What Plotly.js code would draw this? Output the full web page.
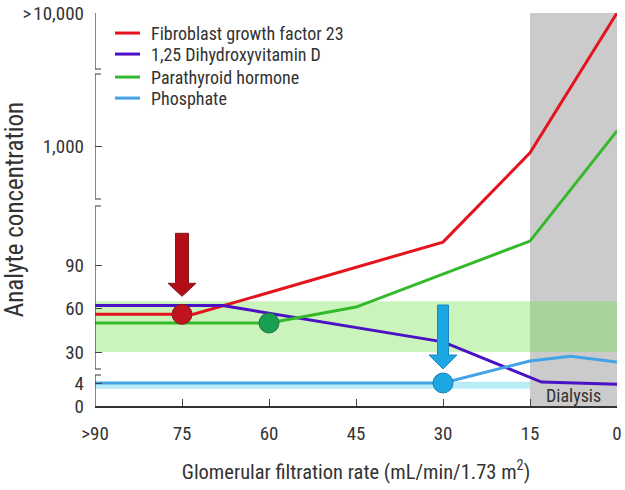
<!DOCTYPE html>
<html>
<head>
<meta charset="utf-8">
<script src="https://cdn.plot.ly/plotly-3.0.1.min.js"></script>
<style>html,body{margin:0;padding:0;background:#fff;}#chart{width:625px;height:490px;}</style>
</head>
<body>
<div id="chart"></div>
<script>
// ---- Data (GFR in mL/min/1.73 m², analyte concentration on a schematic broken scale) ----
const fgf23Gfr  = [90, 75, 73, 30, 15, 0];
const fgf23Conc = [56, 56, 56, 143, 870, 10000];

const vitdGfr  = [90, 68, 30, 13, 0];
const vitdConc = [62, 62, 37, 4.8, 3.8];

const pthGfr  = [90, 60, 45, 15, 0];
const pthConc = [50, 50, 61, 146, 1300];

const phosGfr  = [90, 30, 15, 8, 0];
const phosConc = [4, 4, 22.5, 26.5, 21.5];

// markers where each analyte starts to change
const fgf23Onset = {gfr: 75, conc: 56};
const pthOnset   = {gfr: 60, conc: 50};
const phosOnset  = {gfr: 30, conc: 4};

// normal-range bands and dialysis zone
const normalBand = [30, 65];
const phosBand   = [3, 5];
const dialysisGfr = [15, 0];

const seriesNames = ["Fibroblast growth factor 23", "1,25 Dihydroxyvitamin D", "Parathyroid hormone", "Phosphate"];

const xTickVals = [90, 75, 60, 45, 30, 15, 0];
const xTickText = ["&gt;90", "75", "60", "45", "30", "15", "0"];
const yTickConc = [0, 4, 30, 60, 90, 1000, 10000];
const yTickText = ["0", "4", "30", "60", "90", "1,000", "&gt;\u200A10,000"];

// ---- Schematic broken y scale: concentration -> axis position ----
const scaleConc = [0, 4, 30, 90, 1000, 10000];
const scalePos  = [0, 23, 54, 141, 260, 393];
function ypos(c) {
  for (let i = 0; i < scaleConc.length - 1; i++) {
    const a = scaleConc[i], b = scaleConc[i + 1];
    if (c <= b || i === scaleConc.length - 2) {
      let f;
      if (a >= 90) f = (Math.log10(c) - Math.log10(a)) / (Math.log10(b) - Math.log10(a));
      else f = (c - a) / (b - a);
      return scalePos[i] + f * (scalePos[i + 1] - scalePos[i]);
    }
  }
}
// axis breaks (positions on the schematic axis)
const breakPairs = [[31, 37], [200, 207], [332, 337]];
const axisTop = 393;

const FONT = "'Liberation Sans Narrow', 'Roboto Condensed', 'DejaVu Sans Condensed', 'Arial Narrow', Roboto, sans-serif";
const TXT = "#333333";
const seriesColors = ["#e3141e", "#4a12c4", "#35b92c", "#43a3e6"];

function line(name, gfr, conc, color) {
  return {type: "scatter", mode: "lines", name: name, x: gfr, y: conc.map(ypos), showlegend: false,
          line: {color: color, width: 3}, hoverinfo: "skip"};
}
function dot(p, fill, edge) {
  return {type: "scatter", mode: "markers", x: [p.gfr], y: [ypos(p.conc)], showlegend: false,
          cliponaxis: false, marker: {size: 20, color: fill, line: {color: edge, width: 1}}, hoverinfo: "skip"};
}

const traces = [
  line(seriesNames[0], fgf23Gfr, fgf23Conc, seriesColors[0]),
  line(seriesNames[1], vitdGfr, vitdConc, seriesColors[1]),
  line(seriesNames[2], pthGfr, pthConc, seriesColors[2]),
  line(seriesNames[3], phosGfr, phosConc, seriesColors[3]),
  dot(fgf23Onset, "#c0141f", "#8a1a22"),
  dot(pthOnset, "#18a052", "#1d7048"),
  dot(phosOnset, "#1aa7e2", "#1a7fb0")
];

// ---- Shapes ----
const shapes = [];
// dialysis zone
shapes.push({type: "rect", layer: "below", xref: "x", yref: "paper", x0: dialysisGfr[0], x1: dialysisGfr[1], y0: 0, y1: 1,
             fillcolor: "#cbcbcb", line: {width: 0}});
// normal range band (translucent, so it darkens over dialysis zone)
shapes.push({type: "rect", layer: "below", xref: "paper", yref: "y", x0: 0, x1: 1,
             y0: ypos(normalBand[0]), y1: ypos(normalBand[1]), fillcolor: "rgba(110,225,70,0.36)", line: {width: 0}});
// phosphate band
shapes.push({type: "rect", layer: "below", xref: "x", yref: "y", x0: 90, x1: dialysisGfr[0],
             y0: ypos(phosBand[0]), y1: ypos(phosBand[1]), fillcolor: "#b8edf6", line: {width: 0}});

// broken y-axis line
const segs = [[0, breakPairs[0][0]], [breakPairs[0][1], breakPairs[1][0]], [breakPairs[1][1], breakPairs[2][0]], [breakPairs[2][1], axisTop]];
segs.forEach(s => shapes.push({type: "line", xref: "x", yref: "y", xsizemode: "pixel", xanchor: 90, x0: 0, x1: 0,
                               y0: s[0], y1: s[1], line: {color: "#444", width: 1.3}}));
breakPairs.forEach(b => b.forEach(v => shapes.push({type: "line", xref: "x", yref: "y", xsizemode: "pixel", xanchor: 90,
                               x0: -7, x1: 6, y0: v, y1: v, line: {color: "#555", width: 1.2}})));

// down arrows above onset markers (pixel geometry relative to marker)
function arrowPath(tip, headH, headW, shaftW, top) {
  const hw = headW / 2, sw = shaftW / 2, hb = tip + headH;
  return `M 0 ${tip} L ${-hw} ${hb} L ${-sw} ${hb} L ${-sw} ${top} L ${sw} ${top} L ${sw} ${hb} L ${hw} ${hb} Z`;
}
shapes.push({type: "path", xref: "x", yref: "y", xsizemode: "pixel", ysizemode: "pixel",
             xanchor: fgf23Onset.gfr, yanchor: ypos(fgf23Onset.conc),
             path: arrowPath(18, 13, 28, 13, 81), fillcolor: "#b30d18", line: {color: "#7a1a20", width: 1}});
shapes.push({type: "path", xref: "x", yref: "y", xsizemode: "pixel", ysizemode: "pixel",
             xanchor: phosOnset.gfr, yanchor: ypos(phosOnset.conc),
             path: arrowPath(14, 14, 28, 11, 78), fillcolor: "#1aa7e2", line: {color: "#1a86bd", width: 1}});

// ---- Legend (drawn as swatches + text, top-left inside the plot) ----
const annotations = [];
const legendRowY = [0.949, 0.8955, 0.837, 0.7835];
seriesNames.forEach((nm, i) => {
  shapes.push({type: "line", xref: "paper", yref: "paper", x0: 0.0383, x1: 0.0862, y0: legendRowY[i], y1: legendRowY[i],
               line: {color: seriesColors[i], width: 3}});
  annotations.push({xref: "paper", yref: "paper", x: 0.1035, y: legendRowY[i], text: nm, showarrow: false,
                    xanchor: "left", yanchor: "middle", font: {family: FONT, size: 18, color: TXT}});
});
annotations.push({x: (dialysisGfr[0] + dialysisGfr[1]) / 2, y: ypos(1.8), xref: "x", yref: "y", text: "Dialysis",
                  showarrow: false, font: {family: FONT, size: 18, color: TXT}, xanchor: "center", yanchor: "middle"});

const layout = {
  width: 625, height: 490,
  margin: {l: 95, r: 8, t: 13, b: 84},
  paper_bgcolor: "#ffffff", plot_bgcolor: "rgba(0,0,0,0)",
  font: {family: FONT, color: TXT, size: 16},
  showlegend: false,
  xaxis: {range: [90, 0], tickvals: xTickVals, ticktext: xTickText, ticks: "inside", ticklen: 7,
          tickcolor: "#444", tickwidth: 1, showline: true, linecolor: "#333", linewidth: 1.5,
          showgrid: false, zeroline: false, ticklabelstandoff: 10,
          tickfont: {family: FONT, size: 19, color: TXT},
          title: {text: "Glomerular filtration rate (mL/min/1.73 m<sup>2</sup>)", font: {family: FONT, size: 20.5, color: TXT}, standoff: 20}},
  yaxis: {range: [0, axisTop], tickvals: yTickConc.map(ypos), ticktext: yTickText, ticks: "inside", ticklen: 7,
          tickcolor: "#444", tickwidth: 1, showline: false, showgrid: false, zeroline: false, ticklabelstandoff: 10,
          tickfont: {family: FONT, size: 19, color: TXT},
          title: {text: "Analyte concentration", font: {family: FONT, size: 25, color: TXT}, standoff: 12}},
  shapes: shapes,
  annotations: annotations
};

Plotly.newPlot("chart", traces, layout, {displayModeBar: false, staticPlot: true});
</script>
</body>
</html>
